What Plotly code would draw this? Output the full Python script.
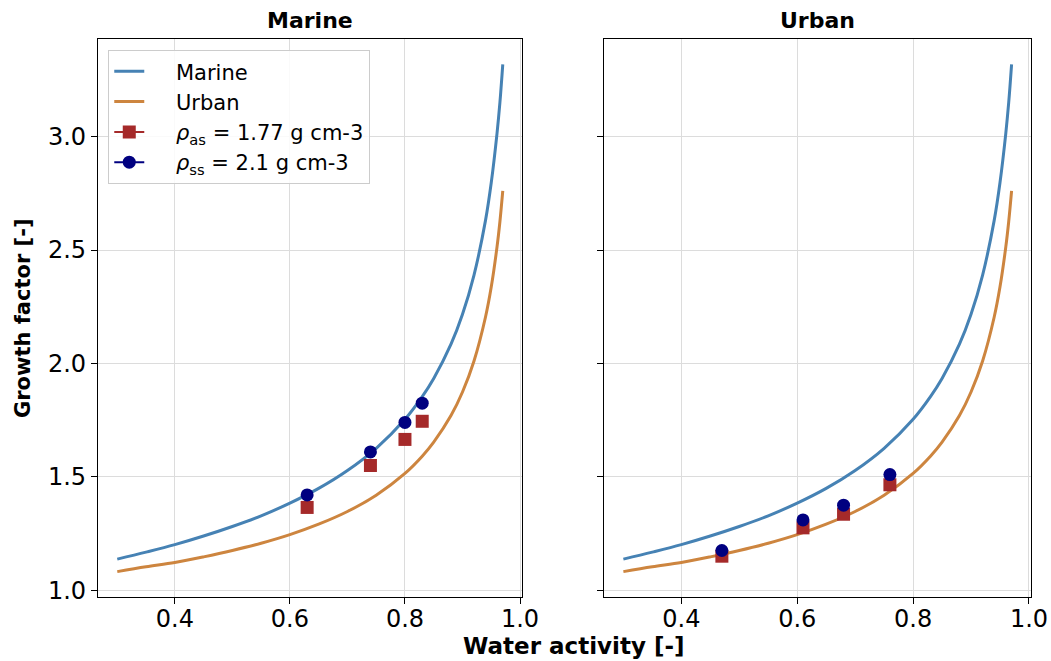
import plotly.graph_objects as go

# Water activity grid and growth-factor curves (kappa-Koehler style)
aw = [0.30, 0.35, 0.40, 0.45, 0.50, 0.55, 0.60, 0.65, 0.70, 0.75, 0.80,
      0.83, 0.85, 0.88, 0.90, 0.92, 0.94, 0.95, 0.96, 0.965, 0.97]
gf_marine = [1.137, 1.168, 1.201, 1.239, 1.281, 1.328, 1.384, 1.449, 1.528,
             1.626, 1.754, 1.854, 1.934, 2.085, 2.217, 2.390, 2.631, 2.798,
             3.015, 3.150, 3.319]
gf_urban = [1.082, 1.103, 1.122, 1.147, 1.175, 1.207, 1.245, 1.291, 1.347,
            1.419, 1.515, 1.591, 1.653, 1.770, 1.874, 2.011, 2.205, 2.338,
            2.514, 2.625, 2.761]

# Measured points, marine panel
aw_marine_pts = [0.63, 0.74, 0.80, 0.83]
gf_marine_as = [1.365, 1.550, 1.665, 1.745]
gf_marine_ss = [1.420, 1.610, 1.740, 1.825]

# Measured points, urban panel
aw_urban_pts = [0.47, 0.61, 0.68, 0.76]
gf_urban_as = [1.150, 1.275, 1.335, 1.465]
gf_urban_ss = [1.175, 1.310, 1.375, 1.510]

panel_titles = ["Marine", "Urban"]
x_ticks = [0.4, 0.6, 0.8, 1.0]
y_ticks = [1.0, 1.5, 2.0, 2.5, 3.0]

C_MARINE = "#4682B4"
C_URBAN = "#CD853F"
C_AS = "#A52A2A"
C_SS = "#000080"
FONT = "DejaVu Sans"
PAD = "\u00a0" * 4  # gap between legend handle and label

fig = go.Figure()

panels = [
    ("x", "y", aw_marine_pts, gf_marine_as, gf_marine_ss, True),
    ("x2", "y2", aw_urban_pts, gf_urban_as, gf_urban_ss, False),
]

for xa, ya, px, pas, pss, first in panels:
    fig.add_trace(go.Scatter(x=aw, y=gf_marine, mode="lines", name=PAD + "Marine",
                             line=dict(color=C_MARINE, width=3, shape="spline"),
                             xaxis=xa, yaxis=ya, showlegend=first))
    fig.add_trace(go.Scatter(x=aw, y=gf_urban, mode="lines", name=PAD + "Urban",
                             line=dict(color=C_URBAN, width=3, shape="spline"),
                             xaxis=xa, yaxis=ya, showlegend=first))
    fig.add_trace(go.Scatter(x=px, y=pas, mode="markers",
                             marker=dict(symbol="square", size=13, color=C_AS),
                             xaxis=xa, yaxis=ya, showlegend=False))
    fig.add_trace(go.Scatter(x=px, y=pss, mode="markers",
                             marker=dict(symbol="circle", size=13, color=C_SS),
                             xaxis=xa, yaxis=ya, showlegend=False))

# Legend entries for the point series (line + marker handles)
fig.add_trace(go.Scatter(x=[None], y=[None], mode="lines+markers",
                         name=PAD + "<i>ρ</i><sub>as</sub> = 1.77 g cm-3",
                         line=dict(color=C_AS, width=2),
                         marker=dict(symbol="square", size=13, color=C_AS)))
fig.add_trace(go.Scatter(x=[None], y=[None], mode="lines+markers",
                         name=PAD + "<i>ρ</i><sub>ss</sub> = 2.1 g cm-3",
                         line=dict(color=C_SS, width=2),
                         marker=dict(symbol="circle", size=13, color=C_SS)))

axis_common = dict(
    showgrid=True, gridcolor="#dcdcdc", gridwidth=1,
    showline=True, linecolor="black", linewidth=1.2, mirror=True,
    ticks="outside", ticklen=6, tickwidth=1.2, tickcolor="black",
    zeroline=False, automargin=False,
    tickfont=dict(family=FONT, size=24, color="black"),
)

fig.update_layout(
    width=1051, height=661,
    margin=dict(l=98, r=20, t=39, b=64),
    paper_bgcolor="white", plot_bgcolor="white",
    font=dict(family=FONT, color="black"),
    xaxis=dict(domain=[0, 0.4545], range=[0.2665, 1.0035], tickvals=x_ticks,
               ticktext=[f"{v:.1f}" for v in x_ticks], ticklabelstandoff=-6,
               **axis_common),
    xaxis2=dict(domain=[0.5423, 1], range=[0.2665, 1.0035], tickvals=x_ticks,
                ticktext=[f"{v:.1f}" for v in x_ticks], ticklabelstandoff=-6,
                anchor="y2", **axis_common),
    yaxis=dict(range=[0.970, 3.431], tickvals=y_ticks,
               ticktext=[f"{v:.1f}" for v in y_ticks], **axis_common),
    yaxis2=dict(range=[0.970, 3.431], tickvals=y_ticks, showticklabels=False,
                anchor="x2", **axis_common),
    legend=dict(x=0.011, y=0.98, xanchor="left", yanchor="top",
                bgcolor="rgba(255,255,255,0.85)", bordercolor="#cccccc",
                borderwidth=1, font=dict(family=FONT, size=21, color="black"),
                tracegroupgap=0),
)

# Panel titles
for i, title in enumerate(panel_titles):
    xref = "x domain" if i == 0 else "x2 domain"
    fig.add_annotation(text=f"<b>{title}</b>", xref=xref, yref="paper",
                       x=0.5, y=1.0, yshift=4, xanchor="center", yanchor="bottom",
                       showarrow=False, font=dict(family=FONT, size=22, color="black"))

# Shared axis titles
fig.add_annotation(text="<b>Water activity [-]</b>", xref="paper", yref="paper",
                   x=0.510, y=0, yshift=-34, xanchor="center", yanchor="top",
                   showarrow=False, font=dict(family=FONT, size=23, color="black"))
fig.add_annotation(text="<b>Growth factor [-]</b>", xref="paper", yref="paper",
                   x=0, xshift=-75, y=0.5, xanchor="center", yanchor="middle",
                   textangle=-90, showarrow=False,
                   font=dict(family=FONT, size=21, color="black"))

fig.write_html("out.html")
